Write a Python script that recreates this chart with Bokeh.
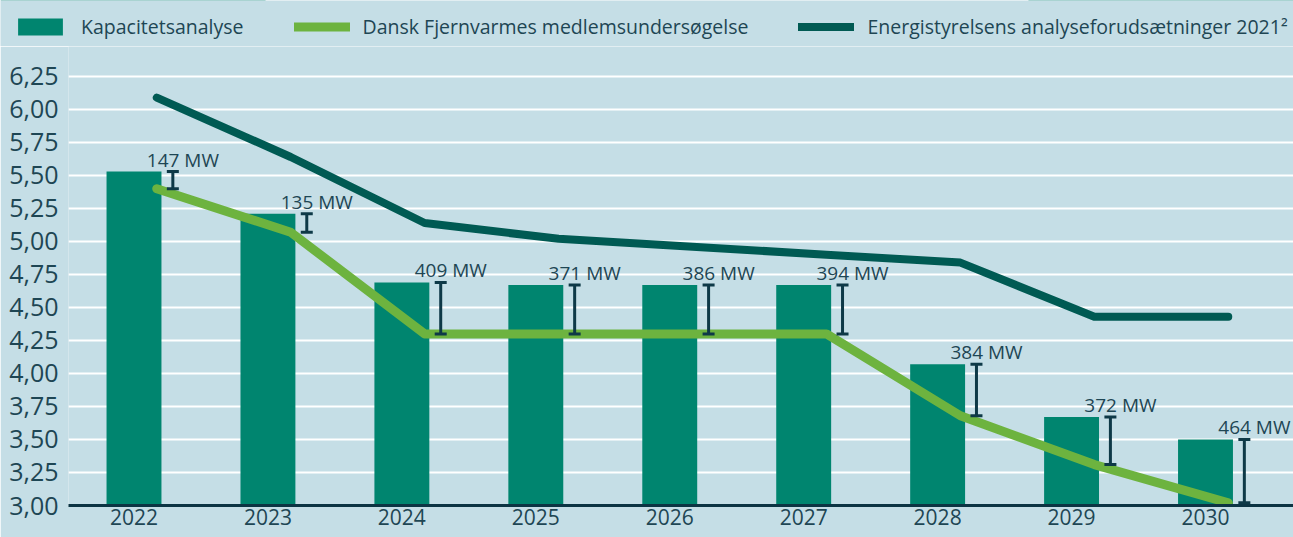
from bokeh.plotting import figure
from bokeh.layouts import column
from bokeh.models import (ColumnDataSource, Range1d, FixedTicker, CustomJSTickFormatter,
                          Whisker, TeeHead, Legend, LegendItem)
from bokeh.transform import dodge
from bokeh.core.properties import value
from bokeh.embed import file_html
from bokeh.resources import INLINE

# ---- data ----
years = ["2022", "2023", "2024", "2025", "2026", "2027", "2028", "2029", "2030"]
kapacitet = [5.53, 5.21, 4.69, 4.67, 4.67, 4.67, 4.07, 3.67, 3.50]
medlem = [5.40, 5.07, 4.30, 4.30, 4.30, 4.30, 3.68, 3.31, 3.02]
energistyrelsen = [6.09, 5.64, 5.14, 5.02, 4.96, 4.90, 4.84, 4.43, 4.43]
mw_labels = ["147 MW", "135 MW", "409 MW", "371 MW", "386 MW", "394 MW", "384 MW", "372 MW", "464 MW"]
y_ticks = [3.00, 3.25, 3.50, 3.75, 4.00, 4.25, 4.50, 4.75, 5.00, 5.25, 5.50, 5.75, 6.00, 6.25]
series_names = ["Kapacitetsanalyse",
                "Dansk Fjernvarmes medlemsundersøgelse",
                "Energistyrelsens analyseforudsætninger 2021²"]

# ---- style ----
BG = "#c5dee6"
BAR = "#00856f"
GREEN = "#6db33f"
DARK = "#005a53"
EB = "#0e3947"
AXIS = "#0c3443"
TEXT = "#1e4654"
FONT = "Open Sans"
W = 1293
LEG_H = 46
MAIN_H = 491

x_idx = list(range(len(years)))
src = ColumnDataSource(dict(x=x_idx, year=years, kap=kapacitet, med=medlem,
                            ene=energistyrelsen, lbl=mw_labels))


def draw_series(fig):
    b = fig.vbar(x="x", top="kap", bottom=3.0, width=0.41, source=src,
                 fill_color=BAR, line_color=None)
    g = fig.line(x=dodge("x", 0.17), y="med", source=src, line_color=GREEN,
                 line_width=9, line_cap="round", line_join="round")
    d = fig.line(x=dodge("x", 0.17), y="ene", source=src, line_color=DARK,
                 line_width=8, line_cap="round", line_join="round")
    return b, g, d


# ---- main chart ----
p = figure(width=W, height=MAIN_H,
           x_range=Range1d(-0.489, 8.657), y_range=Range1d(3.0, 6.477),
           output_backend="svg", toolbar_location=None,
           min_border_left=68, min_border_right=0, min_border_top=0, min_border_bottom=32,
           background_fill_color=BG, border_fill_color=BG, outline_line_color=None)

p.yaxis.ticker = FixedTicker(ticks=y_ticks)
p.yaxis.formatter = CustomJSTickFormatter(code="return tick.toFixed(2).replace('.', ',');")
p.yaxis.axis_line_color = None
p.yaxis.major_tick_line_color = None
p.yaxis.minor_tick_line_color = None
p.yaxis.major_tick_out = 0
p.yaxis.minor_tick_out = 0
p.yaxis.major_label_standoff = 10
p.yaxis.major_label_text_font = FONT
p.yaxis.major_label_text_font_size = "25px"
p.yaxis.major_label_text_color = TEXT

p.xaxis.ticker = FixedTicker(ticks=x_idx)
p.xaxis.formatter = CustomJSTickFormatter(args=dict(labels=years),
                                          code="return labels[Math.round(tick)] || '';")
p.xaxis.axis_line_color = AXIS
p.xaxis.axis_line_width = 3
p.xaxis.major_tick_line_color = None
p.xaxis.minor_tick_line_color = None
p.xaxis.major_tick_out = 0
p.xaxis.minor_tick_out = 0
p.xaxis.major_label_standoff = 3
p.xaxis.major_label_text_font = FONT
p.xaxis.major_label_text_font_size = "21px"
p.xaxis.major_label_text_color = TEXT

p.xgrid.grid_line_color = None
p.ygrid.grid_line_color = "white"
p.ygrid.grid_line_width = 2

bars, green, dark = draw_series(p)

whisk = Whisker(source=src, base=dodge("x", 0.29), lower="med", upper="kap",
                dimension="height", line_color=EB, line_width=3, level="annotation",
                lower_head=TeeHead(size=12, line_color=EB, line_width=3),
                upper_head=TeeHead(size=12, line_color=EB, line_width=3))
p.add_layout(whisk)

p.text(x=dodge("x", 0.365), y="kap", text="lbl", source=src,
       text_align="center", text_baseline="alphabetic", y_offset=-12,
       text_font=value(FONT), text_font_size="19px", text_color=TEXT)

# ---- legend row (same series, drawn out of view so only the legend shows) ----
lg = figure(width=W, height=LEG_H, x_range=Range1d(0, 1), y_range=Range1d(-2, -1),
            x_axis_type=None, y_axis_type=None,
            output_backend="svg", toolbar_location=None,
            min_border=0, background_fill_color=BG, border_fill_color=BG,
            background_fill_alpha=1, border_fill_alpha=1,
            outline_line_color=None)
try:
    lg.frame_align = False
    p.frame_align = False
except AttributeError:
    pass
lb, lgr, ld = draw_series(lg)
legend = Legend(items=[LegendItem(label=series_names[0], renderers=[lb]),
                       LegendItem(label=series_names[1], renderers=[lgr]),
                       LegendItem(label=series_names[2], renderers=[ld])],
                location=(12, 6), orientation="horizontal",
                glyph_width=56, glyph_height=21, label_height=21, label_standoff=13,
                spacing=50, padding=0, margin=0,
                border_line_color=None, background_fill_color=BG, background_fill_alpha=0,
                label_text_font=FONT, label_text_font_size="19.5px", label_text_color=TEXT)
lg.add_layout(legend)

layout = column(lg, p, spacing=0)
open("out.html", "w").write(file_html(layout, INLINE))
